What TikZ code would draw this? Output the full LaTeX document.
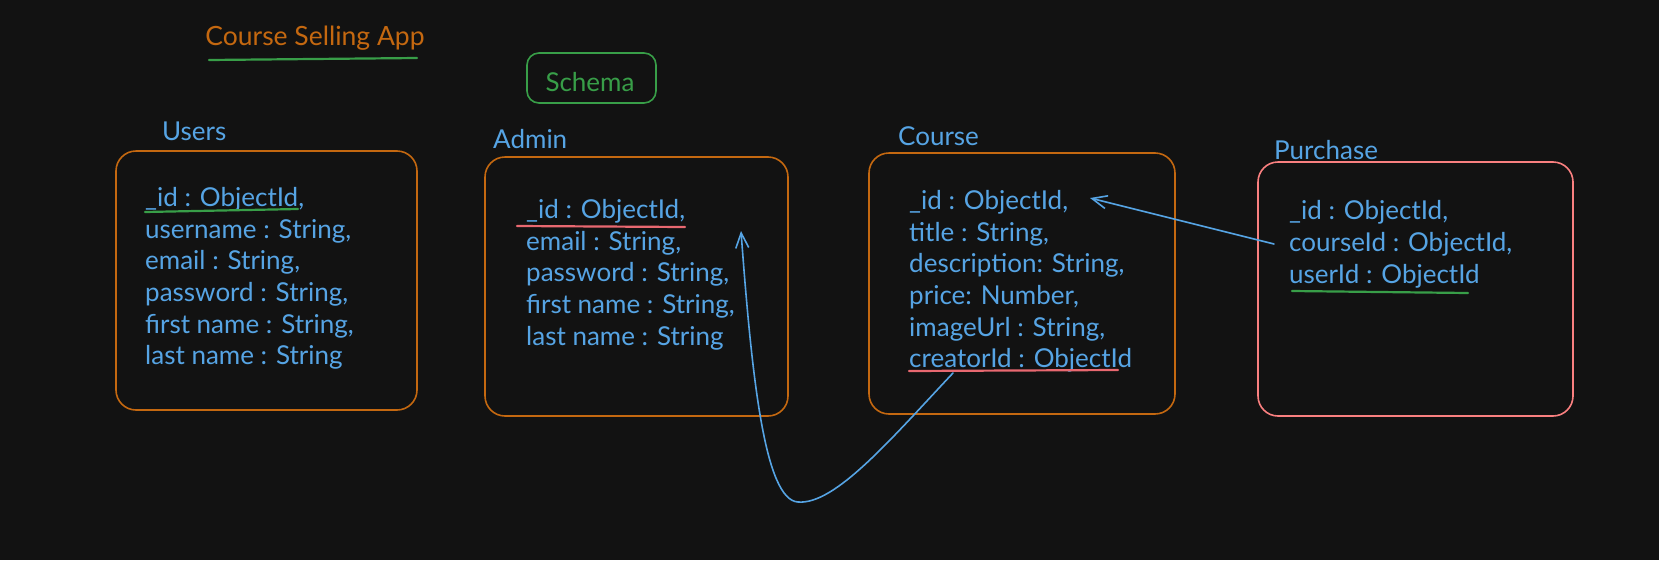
\documentclass[tikz,border=0pt]{standalone}
\usepackage{fontspec}
\setmainfont{Lato}
\usepackage{tikz}
\usetikzlibrary{arrows.meta}
\definecolor{bgdark}{RGB}{18,18,18}
\definecolor{orangeline}{RGB}{196,104,16}
\definecolor{bluetext}{RGB}{86,164,228}
\definecolor{greenline}{RGB}{56,158,72}
\definecolor{pinkline}{RGB}{250,128,128}
\definecolor{redline}{RGB}{232,104,112}

\begin{document}
\begin{tikzpicture}[line cap=round,line join=round,>={Straight Barb[length=15pt,width=13pt]},x=1pt,y=-1pt,
  tbl/.style={draw=orangeline,line width=1.6pt,rounded corners=20pt,inner sep=0pt},
  tblname/.style={text=bluetext,anchor=west,inner sep=0pt,font=\fontsize{26}{30}\selectfont},
  fields/.style={text=bluetext,anchor=north west,align=left,inner sep=0pt,font=\fontsize{26}{31.7}\selectfont},
  uline/.style={line width=2.2pt},
  conn/.style={draw=bluetext,line width=1.6pt}]
\fill[bgdark] (0,0) rectangle (1659,560);
\useasboundingbox (0,0) rectangle (1659,560);
% title and legend
\node[text=orangeline,inner sep=0pt,font=\fontsize{26.5}{30}\selectfont] (title) at (315,38) {Course Selling App};
\draw[uline,greenline] (209,60)-- (417,58);
\node[draw=greenline,line width=1.6pt,rounded corners=12pt,minimum width=129pt,minimum height=50pt] (schema) at (591.5,78) {};
\node[text=greenline,inner sep=0pt,font=\fontsize{26}{30}\selectfont] (schemaname) at (590,82) {Schema};
% Users
\node[tblname] (usersname) at (162,131) {Users};
\node[tbl,minimum width=301pt,minimum height=259pt] (users) at (266.5,280.5) {};
\node[fields] (usersfields) at (145,187) {\_id : ObjectId,\\ username : String,\\ email : String,\\ password : String,\\ first name : String,\\ last name : String};
\draw[uline,greenline] (145,212)-- (298,209);
% Admin
\node[tblname] (adminname) at (493,139) {Admin};
\node[tbl,minimum width=303pt,minimum height=259pt] (admin) at (636.5,286.5) {};
\node[fields] (adminfields) at (526,199) {\_id : ObjectId,\\ email : String,\\ password : String,\\ first name : String,\\ last name : String};
\draw[uline,redline] (517,226)-- (685,227);
% Course
\node[tblname] (coursename) at (898,136.5) {Course};
\node[tbl,minimum width=306pt,minimum height=261pt] (course) at (1022,283.5) {};
\node[fields] (coursefields) at (909,190) {\_id : ObjectId,\\ title : String,\\ description: String,\\ price: Number,\\ imageUrl : String,\\ creatorId : ObjectId};
\draw[uline,redline] (909,371)-- (1118,370);
% Purchase
\node[tblname] (purchasename) at (1274,150) {Purchase};
\node[tbl,draw=pinkline,minimum width=315pt,minimum height=254pt] (purchase) at (1415.5,289) {};
\node[fields] (purchasefields) at (1289,200.5) {\_id : ObjectId,\\ courseId : ObjectId,\\ userId : ObjectId};
\draw[uline,greenline] (1292,291)-- (1468,293);
% references
\coordinate (courseref) at (1274,244);
\coordinate (courseid) at (1090,198);
\coordinate (creatorref) at (953,373);
\coordinate (adminid) at (741,231);
\draw[conn,->] (courseref)-- (courseid);
\draw[conn,->] (creatorref) .. controls (890,440) and (835,505) .. (798,502) .. controls (765,500) and (752,380) .. (adminid);
\end{tikzpicture}
\end{document}
